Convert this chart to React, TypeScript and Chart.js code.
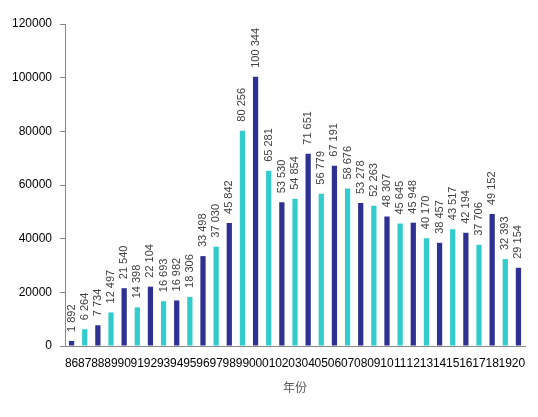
import React, { useEffect, useRef } from "react";
import { Chart, registerables } from "chart.js";

Chart.register(...registerables);

const years = [
  "86", "87", "88", "89", "90", "91", "92", "93", "94", "95", "96", "97", "98", "99",
  "00", "01", "02", "03", "04", "05", "06", "07", "08", "09", "10", "11", "12", "13",
  "14", "15", "16", "17", "18", "19", "20",
];
const counts = [
  1892, 6264, 7734, 12497, 21540, 14398, 22104, 16693, 16982, 18306, 33498, 37030,
  45842, 80256, 100344, 65281, 53530, 54854, 71651, 56779, 67191, 58676, 53278,
  52263, 48307, 45645, 45948, 40170, 38457, 43517, 42194, 37706, 49152, 32393, 29154,
];
const yTicks = [0, 20000, 40000, 60000, 80000, 100000, 120000];

const DARK = "#2E3192";
const CYAN = "#33CCCC";
const FONT = "'Liberation Sans', Arial, sans-serif";

// thousands with a space, like "100 344"
const fmt = (v: number) => String(v).replace(/\B(?=(\d{3})+(?!\d))/g, " ");

const valueLabels = {
  id: "valueLabels",
  afterDatasetsDraw(chart: any) {
    const ctx = chart.ctx;
    const meta = chart.getDatasetMeta(0);
    ctx.save();
    ctx.font = `11px ${FONT}`;
    ctx.fillStyle = "#404040";
    ctx.textAlign = "left";
    ctx.textBaseline = "middle";
    meta.data.forEach((bar: any, i: number) => {
      ctx.save();
      ctx.translate(bar.x, bar.y - 9);
      ctx.rotate(-Math.PI / 2);
      ctx.fillText(fmt(counts[i]), 0, 0);
      ctx.restore();
    });
    ctx.restore();
  },
};

export default function App() {
  const canvasRef = useRef<HTMLCanvasElement | null>(null);
  const chartRef = useRef<Chart | null>(null);

  useEffect(() => {
    if (!canvasRef.current) return;
    chartRef.current = new Chart(canvasRef.current, {
      type: "bar",
      data: {
        labels: years,
        datasets: [
          {
            data: counts,
            backgroundColor: counts.map((_, i) => (i % 2 === 0 ? DARK : CYAN)),
            barPercentage: 0.4,
            categoryPercentage: 1,
          },
        ],
      },
      options: {
        animation: false,
        responsive: false,
        maintainAspectRatio: false,
        layout: { padding: { top: 24, right: 13, left: 0, bottom: 22 } },
        plugins: {
          legend: { display: false },
          tooltip: { enabled: false },
        },
        scales: {
          x: {
            grid: { display: false },
            border: { display: true, color: "#888888", width: 1 },
            ticks: {
              autoSkip: false,
              maxRotation: 0,
              minRotation: 0,
              color: "#000000",
              padding: 2,
              font: { family: FONT, size: 12 },
            },
            title: {
              display: true,
              text: "年份",
              color: "#595959",
              font: { family: "'Noto Sans CJK SC', sans-serif", size: 12 },
              padding: { top: 10, bottom: 0 },
            },
            afterFit(scale: any) {
              scale.height = 49;
            },
          },
          y: {
            min: 0,
            max: 120000,
            afterBuildTicks(scale: any) {
              scale.ticks = yTicks.map((v) => ({ value: v }));
            },
            grid: {
              display: true,
              drawOnChartArea: false,
              drawTicks: true,
              tickLength: 5,
              color: "#888888",
            },
            border: { display: true, color: "#888888", width: 1 },
            ticks: {
              color: "#000000",
              padding: 8,
              font: { family: FONT, size: 12 },
              callback: (v: any) => String(v),
            },
            afterFit(scale: any) {
              scale.width = 65;
            },
          },
        },
      },
      plugins: [valueLabels],
    });
    return () => {
      if (chartRef.current) {
        chartRef.current.destroy();
        chartRef.current = null;
      }
    };
  }, []);

  return (
    <div style={{ position: "fixed", left: 0, top: 0, width: 538, height: 417, background: "#fff" }}>
      <canvas ref={canvasRef} width={538} height={417} style={{ width: 538, height: 417 }} />
    </div>
  );
}
